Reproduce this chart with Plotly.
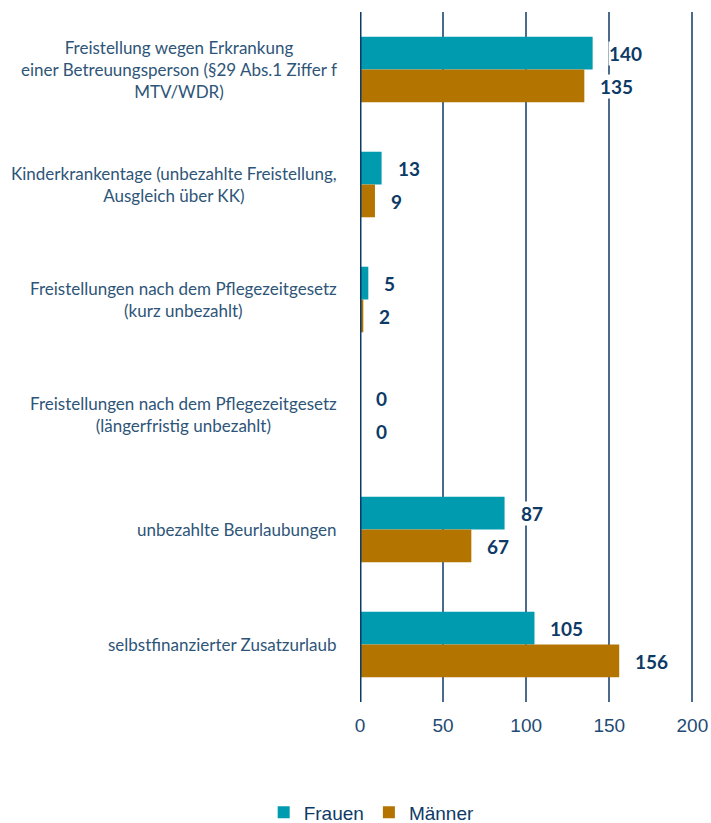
import plotly.graph_objects as go

categories = [
    "Freistellung wegen Erkrankung<br>einer Betreuungsperson (§29 Abs.1 Ziffer f<br>MTV/WDR)",
    "Kinderkrankentage (unbezahlte Freistellung,<br>Ausgleich über KK)",
    "Freistellungen nach dem Pflegezeitgesetz<br>(kurz unbezahlt)",
    "Freistellungen nach dem Pflegezeitgesetz<br>(längerfristig unbezahlt)",
    "unbezahlte Beurlaubungen",
    "selbstfinanzierter Zusatzurlaub",
]
frauen = [140, 13, 5, 0, 87, 105]
maenner = [135, 9, 2, 0, 67, 156]
x_ticks = [0, 50, 100, 150, 200]

TEAL = "#009BAF"
ORANGE = "#B37400"
NAVY = "#0D3A66"
GRID = "#4B6A8C"

pos = list(range(len(categories)))

fig = go.Figure()
fig.add_trace(go.Bar(y=pos, x=frauen, orientation="h", name="Frauen",
                     marker=dict(color=TEAL, line=dict(width=0))))
fig.add_trace(go.Bar(y=pos, x=maenner, orientation="h", name="Männer",
                     marker=dict(color=ORANGE, line=dict(width=0))))

annotations = []
# value labels
for i, (f, m) in enumerate(zip(frauen, maenner)):
    for val, ys in ((f, 16.5), (m, -16.5)):
        annotations.append(dict(
            x=val, y=i, xref="x", yref="y", text=str(val), showarrow=False,
            xanchor="left", yanchor="middle", xshift=15, yshift=ys,
            font=dict(family="Lato", size=19, color=NAVY, weight="bold"),
            bgcolor="white", borderpad=0,
        ))
# category labels (centered multi-line)
for i, c in enumerate(categories):
    annotations.append(dict(
        x=0, y=i, xref="paper", yref="y", text=c, showarrow=False,
        xanchor="right", yanchor="middle", align="center", xshift=-21,
        font=dict(family="Lato", size=17, color="#2E5578"),
    ))

fig.update_layout(
    width=711, height=823,
    margin=dict(l=360, r=17, t=12, b=121, autoexpand=False),
    paper_bgcolor="white", plot_bgcolor="white",
    barmode="group", bargap=0.43, bargroupgap=0,
    showlegend=True,
    legend=dict(orientation="h", x=0.035, xanchor="center", y=-0.16, yanchor="middle",
                font=dict(family="Liberation Sans, Arial", size=19, color=NAVY),
                itemwidth=30, traceorder="normal"),
    annotations=annotations,
    xaxis=dict(range=[0, 201], tickvals=x_ticks, showgrid=True, gridcolor=GRID, gridwidth=2,
               zeroline=False, showline=False, automargin=False,
               tickfont=dict(family="Liberation Sans, Arial", size=19, color="#1F4B75"),
               ticklabelstandoff=10),
    yaxis=dict(range=[5.5, -0.5], tickvals=pos, showticklabels=False, showgrid=False,
               zeroline=False, showline=False, automargin=False),
    shapes=[dict(type="line", xref="x", yref="paper", x0=0, x1=0, y0=0, y1=1,
                 line=dict(color=NAVY, width=3), layer="above")],
)

fig.write_html("out.html", config={"displayModeBar": False},
               post_script="document.body.style.margin='0';document.body.style.overflow='hidden';")
